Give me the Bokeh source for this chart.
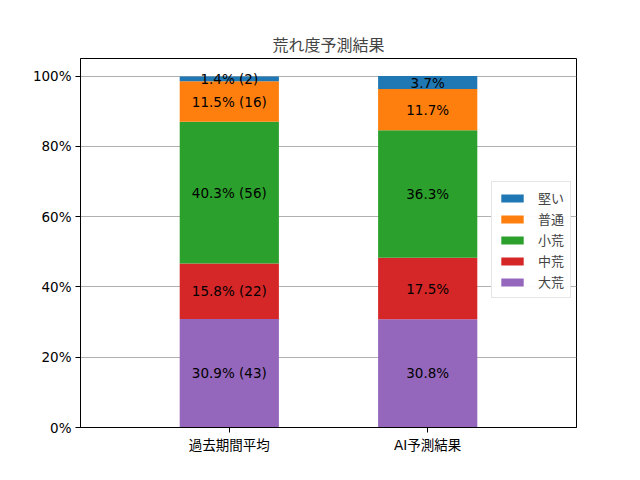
from bokeh.plotting import figure
from bokeh.models import (Range1d, FixedTicker, PrintfTickFormatter, Legend, LegendItem,
                          ColumnDataSource)
from bokeh.core.properties import value
from bokeh.embed import file_html
from bokeh.resources import INLINE

categories = ["過去期間平均", "AI予測結果"]
levels = ["大荒", "中荒", "小荒", "普通", "堅い"]
colors = ["#9467bd", "#d62728", "#2ca02c", "#ff7f0e", "#1f77b4"]
past_pct = [30.9, 15.8, 40.3, 11.5, 1.4]
past_cnt = [43, 22, 56, 16, 2]
ai_pct = [30.8, 17.5, 36.3, 11.7, 3.7]
y_ticks = [0, 20, 40, 60, 80, 100]

FONT = "DejaVu Sans, Noto Sans CJK JP"
CJK = "Noto Sans CJK JP"

p = figure(width=624, height=464, output_backend="svg", toolbar_location=None,
           x_range=Range1d(-0.75, 1.75), y_range=Range1d(0, 105),
           min_border_left=80, min_border_right=48, min_border_top=58, min_border_bottom=37)

data = {"x": [0, 1]}
for i, lv in enumerate(levels):
    data[lv] = [past_pct[i], ai_pct[i]]
src = ColumnDataSource(data)
rs = p.vbar_stack(levels, x="x", width=0.5, color=colors, source=src, line_width=0)

# labels
lx, ly, lt = [], [], []
cum_p = 0.0
cum_a = 0.0
for i in range(len(levels)):
    lx.append(0)
    ly.append(cum_p + past_pct[i] / 2)
    lt.append(f"{past_pct[i]:.1f}% ({past_cnt[i]})")
    cum_p += past_pct[i]
    lx.append(1)
    ly.append(cum_a + ai_pct[i] / 2)
    lt.append(f"{ai_pct[i]:.1f}%")
    cum_a += ai_pct[i]
p.text(x=lx, y=ly, text=lt, text_align="center", text_baseline="middle",
       text_font=value(FONT), text_font_size="13.5px", text_color="black")

items = [LegendItem(label=levels[i], renderers=[rs[i]]) for i in reversed(range(len(levels)))]
legend = Legend(items=items, location=(411, 129), label_text_font=CJK,
                label_text_font_size="13px", glyph_width=28, glyph_height=10,
                spacing=2, padding=6, margin=0, border_line_color="#cccccc",
                label_standoff=12, label_height=18)
p.add_layout(legend, "center")

p.title.text = "荒れ度予測結果"
p.title.align = "center"
p.title.text_font = CJK
p.title.text_font_size = "16px"
p.title.text_font_style = "normal"
p.title.standoff = 6

p.xaxis.ticker = FixedTicker(ticks=[0, 1])
p.xaxis.major_label_overrides = {0: categories[0], 1: categories[1]}
p.yaxis.ticker = FixedTicker(ticks=y_ticks)
p.yaxis.formatter = PrintfTickFormatter(format="%d%%")
for ax in (p.xaxis, p.yaxis):
    ax.major_label_text_font = FONT
    ax.major_label_text_font_size = "13.5px"
    ax.major_label_text_color = "black"
    ax.axis_line_color = "black"
    ax.major_tick_line_color = "black"
    ax.major_tick_out = 5
    ax.major_tick_in = 0
    ax.minor_tick_line_color = None
    ax.major_label_standoff = 4
p.xgrid.grid_line_color = None
p.ygrid.grid_line_color = "#b0b0b0"
p.ygrid.grid_line_width = 1
p.outline_line_color = "black"
p.outline_line_alpha = 1

open("out.html", "w").write(file_html(p, INLINE))
